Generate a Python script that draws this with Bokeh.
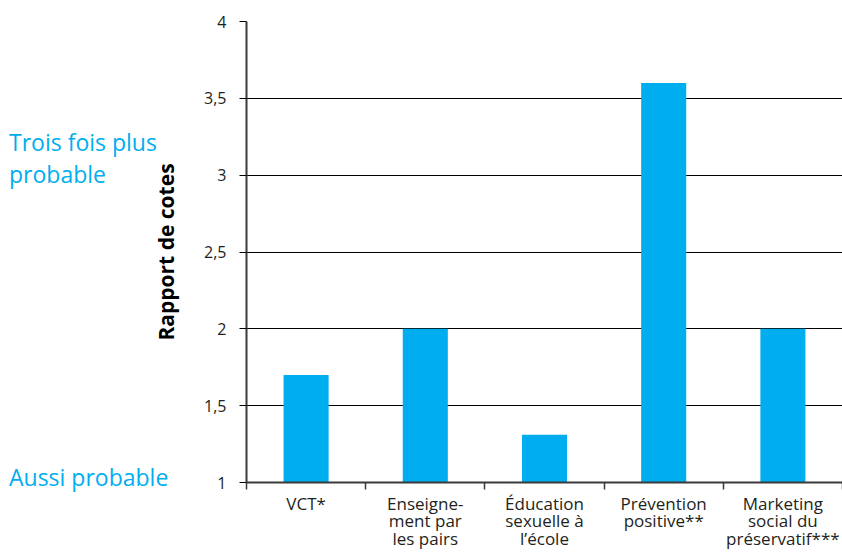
from bokeh.plotting import figure
from bokeh.models import Range1d, FixedTicker, GridBox, Div
from bokeh.embed import file_html
from bokeh.resources import INLINE

categories = ["VCT*", "Enseigne-\nment par\nles pairs", "Éducation\nsexuelle à\nl’école",
              "Prévention\npositive**", "Marketing\nsocial du\npréservatif***"]
odds_ratio = [1.7, 2.0, 1.31, 3.6, 2.0]
y_ticks = [1, 1.5, 2, 2.5, 3, 3.5, 4]
y_tick_labels = ["1", "1,5", "2", "2,5", "3", "3,5", "4"]
note_texts = ["Trois fois plus", "probable", "Aussi probable"]
note_levels = [3, 3, 1]          # odds-ratio level each note refers to

CYAN = "#00AEEF"
DARK = "#231F20"
FONT = "Open Sans"

W, H = 842, 553
LEFT, TOP, BOTTOM = 246, 21, 68
Y0, Y1 = 1, 4
n = len(categories)
centers = [i + 0.5 for i in range(n)]

p = figure(width=W, height=H, output_backend="svg", toolbar_location=None,
           x_range=Range1d(0, n), y_range=Range1d(Y0, Y1),
           min_border_left=LEFT, min_border_top=TOP, min_border_right=0,
           min_border_bottom=BOTTOM)
p.outline_line_color = None

p.vbar(x=centers, top=odds_ratio, bottom=Y0, width=0.378, fill_color=CYAN, line_color=None)

# y axis
p.yaxis.ticker = FixedTicker(ticks=y_ticks, minor_ticks=[])
p.yaxis.major_label_overrides = {t: l for t, l in zip(y_ticks, y_tick_labels)}
p.yaxis.axis_label = "Rapport de cotes"
p.yaxis.axis_label_text_font = FONT
p.yaxis.axis_label_text_font_style = "bold"
p.yaxis.axis_label_text_font_size = "21px"
p.yaxis.axis_label_text_color = "black"
p.yaxis.axis_label_standoff = 21
p.yaxis.major_label_text_font = FONT
p.yaxis.major_label_text_font_size = "16px"
p.yaxis.major_label_text_color = DARK
p.yaxis.major_label_standoff = 13
p.yaxis.axis_line_color = "#3a3a3a"
p.yaxis.axis_line_width = 2
p.yaxis.major_tick_line_color = "black"
p.yaxis.major_tick_out = 7
p.yaxis.major_tick_in = 0
p.yaxis.minor_tick_line_color = None

# x axis: labels at category centres, separators as minor ticks
p.xaxis.ticker = FixedTicker(ticks=centers, minor_ticks=list(range(n + 1)))
p.xaxis.major_label_overrides = {c: l for c, l in zip(centers, categories)}
p.xaxis.major_label_text_font = FONT
p.xaxis.major_label_text_font_size = "17px"
p.xaxis.major_label_text_color = DARK
p.xaxis.major_label_text_line_height = 0.78
p.xaxis.major_label_standoff = 2
p.xaxis.major_tick_line_color = None
p.xaxis.major_tick_out = 0
p.xaxis.major_tick_in = 0
p.xaxis.minor_tick_line_color = "#3a3a3a"
p.xaxis.minor_tick_line_width = 1.5
p.xaxis.minor_tick_out = 7
p.xaxis.minor_tick_in = 0
p.xaxis.axis_line_color = "#3a3a3a"
p.xaxis.axis_line_width = 2

p.xgrid.grid_line_color = None
p.ygrid.grid_line_color = "black"
p.ygrid.grid_line_width = 1.2

# left-hand notes, overlaid as SVG text at the odds-ratio levels they refer to
px_per_unit = (H - TOP - BOTTOM) / (Y1 - Y0)
def level_px(v):
    return TOP + (Y1 - v) * px_per_unit

baseline_shift = [-25, 7, 1]     # first note line sits one line above "probable"
items = []
for txt, lv, dy in zip(note_texts, note_levels, baseline_shift):
    items.append(
        f'<text x="9" y="{level_px(lv) + dy:.1f}" '
        f'style="font-family:\'{FONT}\',sans-serif;font-size:23px;font-weight:400;fill:{CYAN}">'
        f'{txt}</text>')
svg = (f'<svg xmlns="http://www.w3.org/2000/svg" width="{W}" height="{H}" '
       f'style="position:absolute;left:0;top:0;pointer-events:none">' + "".join(items) + '</svg>')
notes = Div(text=svg, width=W, height=H, margin=0)

grid = GridBox(children=[(p, 0, 0), (notes, 0, 0)])

open("out.html", "w").write(file_html(grid, INLINE))
